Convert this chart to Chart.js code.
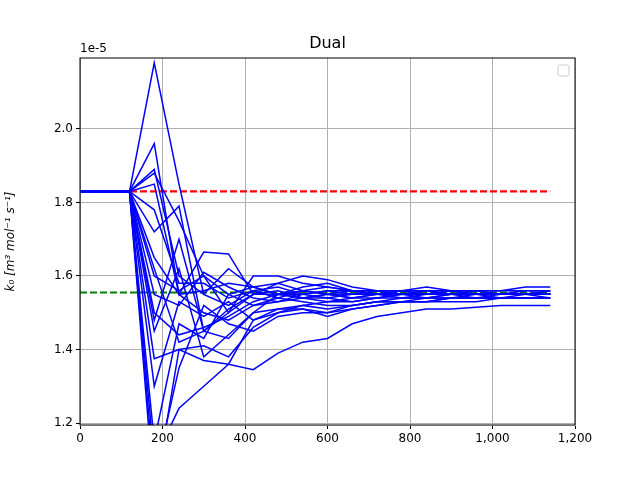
<!DOCTYPE html>
<html><head><script src="https://cdn.jsdelivr.net/npm/chart.js@4"></script>
<style>body{margin:0;background:#fff}#w{width:640px;height:480px}</style></head>
<body><div id="w"><canvas id="c"></canvas></div>
<script>
const xs=[0,120,180,240,300,360,420,480,540,600,660,720,780,840,900,960,1020,1080,1140];
const series=[
[1.83,1.83,2.18,1.85,1.55,1.52,1.56,1.57,1.55,1.54,1.55,1.55,1.56,1.55,1.55,1.55,1.55,1.55,1.55],
[1.83,1.83,1.96,1.55,1.665,1.66,1.55,1.56,1.54,1.55,1.56,1.55,1.55,1.55,1.56,1.55,1.55,1.55,1.55],
[1.83,1.83,1.89,1.60,1.55,1.62,1.57,1.55,1.56,1.55,1.55,1.56,1.55,1.55,1.55,1.55,1.55,1.56,1.56],
[1.83,1.83,1.88,1.75,1.60,1.50,1.60,1.60,1.58,1.57,1.56,1.55,1.55,1.56,1.55,1.55,1.55,1.55,1.55],
[1.83,1.83,1.72,1.79,1.45,1.50,1.55,1.58,1.56,1.55,1.54,1.55,1.55,1.55,1.55,1.56,1.55,1.55,1.54],
[1.83,1.83,1.10,1.24,1.30,1.36,1.48,1.50,1.52,1.51,1.52,1.53,1.53,1.54,1.54,1.54,1.54,1.54,1.54],
[1.83,1.83,1.00,1.40,1.37,1.36,1.345,1.39,1.42,1.43,1.47,1.49,1.50,1.51,1.51,1.515,1.52,1.52,1.52],
[1.83,1.83,1.375,1.40,1.41,1.38,1.46,1.50,1.51,1.50,1.51,1.52,1.53,1.53,1.54,1.54,1.54,1.54,1.54],
[1.83,1.83,1.48,1.70,1.45,1.43,1.50,1.55,1.55,1.56,1.55,1.55,1.54,1.55,1.55,1.55,1.55,1.55,1.55],
[1.83,1.83,1.60,1.56,1.60,1.55,1.57,1.55,1.54,1.53,1.54,1.54,1.55,1.54,1.55,1.55,1.55,1.55,1.55],
[1.83,1.83,1.65,1.55,1.50,1.48,1.52,1.53,1.55,1.56,1.56,1.55,1.56,1.56,1.56,1.55,1.55,1.55,1.55],
[1.83,1.83,1.50,1.44,1.46,1.49,1.53,1.55,1.54,1.54,1.53,1.54,1.55,1.55,1.55,1.55,1.55,1.55,1.56],
[1.83,1.83,1.15,1.47,1.43,1.55,1.52,1.54,1.53,1.52,1.52,1.53,1.54,1.54,1.54,1.55,1.55,1.55,1.55],
[1.83,1.83,1.05,1.35,1.52,1.47,1.45,1.49,1.50,1.50,1.52,1.53,1.53,1.53,1.54,1.54,1.54,1.54,1.54],
[1.83,1.83,1.55,1.52,1.61,1.57,1.54,1.53,1.54,1.55,1.54,1.55,1.55,1.55,1.55,1.55,1.54,1.55,1.55],
[1.83,1.83,1.78,1.58,1.58,1.54,1.56,1.54,1.56,1.57,1.56,1.56,1.55,1.56,1.56,1.56,1.56,1.56,1.56],
[1.83,1.83,1.45,1.62,1.38,1.44,1.50,1.51,1.52,1.53,1.53,1.54,1.54,1.54,1.55,1.55,1.55,1.55,1.55],
[1.83,1.83,1.30,1.53,1.49,1.53,1.48,1.51,1.51,1.49,1.51,1.52,1.53,1.53,1.53,1.53,1.54,1.54,1.54],
[1.83,1.83,1.85,1.55,1.56,1.58,1.57,1.58,1.60,1.59,1.57,1.56,1.56,1.57,1.56,1.56,1.56,1.57,1.57],
[1.83,1.83,1.62,1.42,1.45,1.51,1.55,1.55,1.57,1.58,1.56,1.55,1.55,1.55,1.55,1.54,1.55,1.55,1.55]
];
const refRed=1.83, refGreen=1.555;
const yTicks=[1.2,1.4,1.6,1.8,2.0];
const ds=series.map(s=>({data:s.map((v,i)=>({x:xs[i],y:v})),borderColor:'#0000ff',borderWidth:1.5,pointRadius:0,fill:false,tension:0}));
ds.push({data:[{x:0,y:refRed},{x:1140,y:refRed}],borderColor:'#ff0000',borderWidth:2.2,borderDash:[7,3],pointRadius:0});
ds.push({data:[{x:0,y:refGreen},{x:1140,y:refGreen}],borderColor:'#008000',borderWidth:2.2,borderDash:[7,3],pointRadius:0});
const deco={id:'deco',afterDraw(c){const x=c.ctx,a=c.chartArea;x.save();
x.strokeStyle='#000';x.lineWidth=1;x.strokeRect(a.left,a.top,a.right-a.left,a.bottom-a.top);
x.fillStyle='#000';x.font='16px "DejaVu Sans"';x.textAlign='center';x.textBaseline='bottom';x.fillText('Dual',(a.left+a.right)/2,a.top-6);
x.font='12px "DejaVu Sans"';x.textAlign='left';x.fillText('1e-5',a.left,a.top-3);
x.strokeStyle='#ccc';x.beginPath();x.roundRect(a.right-17,a.top+7,11,11,2);x.stroke();x.restore();}};
new Chart(document.getElementById('c'),{type:'line',data:{datasets:ds},plugins:[deco],
options:{animation:false,responsive:true,maintainAspectRatio:false,layout:{padding:{top:58,right:65,left:0,bottom:0}},
plugins:{legend:{display:false},tooltip:{enabled:false}},
scales:{x:{type:'linear',min:0,max:1200,afterFit(s){s.height=55},ticks:{stepSize:200,color:'#000',font:{size:12,family:'DejaVu Sans'}},grid:{color:'#b0b0b0',tickColor:'#000',tickLength:4}},
y:{min:1.1946,max:2.193,afterFit(s){s.width=80},afterBuildTicks(s){s.ticks=yTicks.map(v=>({value:v}))},ticks:{color:'#000',font:{size:12,family:'DejaVu Sans'},callback:v=>v.toFixed(1)},grid:{color:'#b0b0b0',tickColor:'#000',tickLength:4},
title:{display:true,text:'k₀ [m³ mol⁻¹ s⁻¹]',color:'#000',font:{size:12,family:'DejaVu Sans',style:'italic'}}}}}});
</script></body></html>
